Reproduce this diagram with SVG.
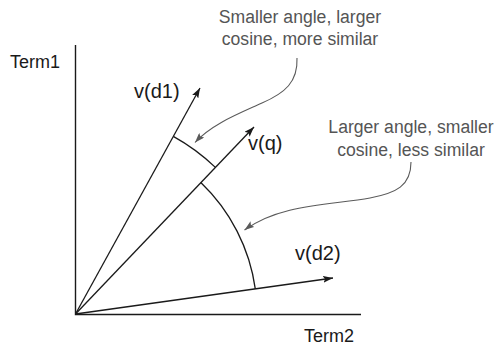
<svg xmlns="http://www.w3.org/2000/svg" width="497" height="346" viewBox="0 0 497 346">
<defs>
<style>
.ax{stroke:#1a1a1a;stroke-width:1.4;fill:none}
.vec{stroke:#1a1a1a;stroke-width:1.3;fill:none;marker-end:url(#ah)}
.arc{stroke:#1a1a1a;stroke-width:1.3;fill:none}
.lead{stroke:#5a5a5a;stroke-width:1.1;fill:none;marker-end:url(#gh)}
.lbl{font-family:"Liberation Sans",Arial,sans-serif;font-size:20px;fill:#1a1a1a}
.term{font-family:"Liberation Sans",Arial,sans-serif;font-size:18px;fill:#1a1a1a}
.note{font-family:"Liberation Sans",Arial,sans-serif;font-size:17.6px;fill:#555;text-anchor:middle}
</style>
<marker id="ah" viewBox="0 0 10 7" refX="10" refY="3.5" markerWidth="10" markerHeight="7" markerUnits="userSpaceOnUse" orient="auto">
<path d="M0,0 L10,3.5 L0,7 L2,3.5 Z" fill="#1a1a1a"/>
</marker>
<marker id="gh" viewBox="0 0 10 7" refX="10" refY="3.5" markerWidth="10" markerHeight="7" markerUnits="userSpaceOnUse" orient="auto">
<path d="M0,0 L10,3.5 L0,7 L2,3.5 Z" fill="#5a5a5a"/>
</marker>
</defs>
<rect width="497" height="346" fill="#fff"/>
<g id="axes">
<path class="ax" d="M75.5,45 V314.5 H361"/>
<text class="term" x="10" y="68">Term1</text>
<text class="term" x="304" y="342">Term2</text>
</g>
<g id="connectors">
<path class="vec" d="M75.5,314 L200,88"/>
<path class="vec" d="M75.5,314 L254,127"/>
<path class="vec" d="M75.5,314 L333,278"/>
<path class="arc" d="M173.3,136.4 A203,203 0 0 1 215.4,167.4"/>
<path class="arc" d="M200.8,182.5 A182,182 0 0 1 255.3,288.9"/>
<path class="lead" d="M297,58 C298,82 285,93 262,103 C238,114 212,124 195,142.5"/>
<path class="lead" d="M411,162 C411,186 396,193 370,198 C330,205 280,204 244.5,230"/>
</g>
<g id="d1"><text class="lbl" x="134" y="98">v(d1)</text></g>
<g id="q"><text class="lbl" x="248" y="150">v(q)</text></g>
<g id="d2"><text class="lbl" x="295" y="260">v(d2)</text></g>
<g id="note1">
<text class="note" x="300" y="22.5">Smaller angle, larger</text>
<text class="note" x="300" y="45">cosine, more similar</text>
</g>
<g id="note2">
<text class="note" x="411" y="133">Larger angle, smaller</text>
<text class="note" x="411" y="156">cosine, less similar</text>
</g>
</svg>
